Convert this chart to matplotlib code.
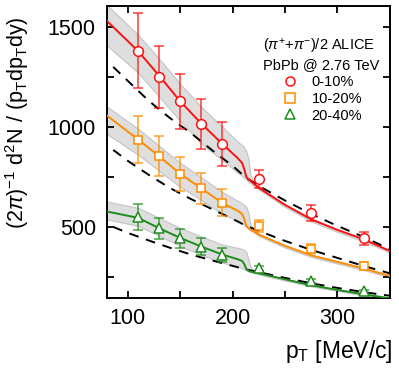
import matplotlib
matplotlib.use("Agg")
import matplotlib.pyplot as plt
from matplotlib.lines import Line2D

plt.rcParams['font.family'] = ['Liberation Sans', 'DejaVu Sans']
plt.rcParams['mathtext.fontset'] = 'custom'
plt.rcParams['mathtext.rm'] = 'Liberation Sans'
plt.rcParams['mathtext.it'] = 'Liberation Sans:italic'
plt.rcParams['mathtext.sf'] = 'Liberation Sans'

# ---- data points (ALICE) ----
pt_pts = [110, 130, 150, 170, 190, 225, 275, 325]
red_y = [1381, 1252, 1128, 1015, 915, 740, 568, 443]
red_err = [187, 155, 137, 125, 110, 45, 40, 34]
orange_y = [936, 853, 765, 693, 621, 507, 392, 305]
orange_err = [117, 100, 87, 77, 68, 30, 24, 22]
green_y = [548, 493, 443, 402, 360, 293, 230, 178]
green_err = [65, 52, 46, 42, 36, 14, 8, 8]

# ---- model curves (solid) ----
pt_line = [80, 110, 130, 150, 170, 190, 205, 209, 211, 213, 216, 225, 250, 275, 300, 325, 350]
red_line = [1530, 1378, 1255, 1128, 1017, 916, 843, 820, 790, 750, 735, 695, 610, 538, 485, 438, 380]
orange_line = [1057, 936, 853, 765, 693, 620, 580, 565, 540, 505, 490, 462, 405, 358, 325, 292, 255]
green_line = [577, 545, 493, 445, 402, 362, 338, 330, 315, 290, 278, 268, 238, 208, 185, 163, 143]

# ---- uncertainty bands ----
pt_band = [80, 110, 130, 150, 170, 190, 205, 210, 213, 215, 217, 220, 225, 250, 275, 300, 325, 350]
red_hi = [1610, 1460, 1340, 1215, 1101, 1001, 925, 905, 880, 840, 760, 720, 700, 613, 541, 488, 440, 382]
red_lo = [1407, 1270, 1150, 1030, 918, 835, 770, 752, 735, 725, 720, 708, 688, 600, 528, 475, 428, 372]
orange_hi = [1102, 990, 905, 820, 748, 675, 630, 615, 600, 570, 510, 490, 465, 408, 361, 328, 295, 258]
orange_lo = [965, 860, 780, 700, 635, 565, 530, 515, 500, 492, 485, 475, 455, 397, 350, 317, 285, 248]
green_hi = [627, 595, 545, 495, 452, 412, 395, 388, 375, 340, 300, 285, 272, 241, 211, 188, 166, 146]
green_lo = [538, 505, 455, 405, 360, 322, 300, 292, 283, 278, 274, 270, 262, 232, 203, 180, 158, 138]

# ---- dashed curves ----
pt_dash = [86, 100, 120, 140, 160, 180, 200, 213, 230, 250, 275, 300, 325, 350]
red_dash = [1300, 1230, 1130, 1045, 970, 885, 805, 745, 690, 632, 565, 505, 450, 388]
orange_dash = [885, 830, 760, 695, 640, 590, 540, 505, 470, 430, 385, 345, 305, 268]
green_dash = [500, 470, 432, 396, 362, 333, 305, 287, 268, 245, 218, 195, 174, 156]

labels = ['0-10%', '10-20%', '20-40%']
colors = ['#ff1010', '#ff8c00', '#1e8c1e']
markers = ['o', 's', '^']

fig = plt.figure(figsize=(3.99, 3.71), dpi=100)
ax = fig.add_axes([0.268, 0.197, 0.709, 0.787])

series = [
    (red_y, red_err, red_line, red_hi, red_lo, red_dash),
    (orange_y, orange_err, orange_line, orange_hi, orange_lo, orange_dash),
    (green_y, green_err, green_line, green_hi, green_lo, green_dash),
]

for (y, e, line, hi, lo, dash), c, m in zip(series, colors, markers):
    ax.fill_between(pt_band, lo, hi, facecolor='#dedede', edgecolor='#c4c4c4', lw=0.8, zorder=1)
    ax.plot(pt_dash, dash, color='black', ls=(0, (5, 4)), lw=1.4, zorder=2)
    ax.plot(pt_line, line, color=c, lw=1.4, zorder=3)
    ax.errorbar(pt_pts, y, yerr=e, fmt='none', ecolor=c, alpha=0.75, elinewidth=1.2,
                capsize=3.5, capthick=1.2, zorder=4)
    ms = 7 if m == 'o' else (6 if m == 's' else 7.5)
    ax.plot(pt_pts, y, ls='none', marker=m, ms=ms, mfc='white', mec=c, mew=1.1, zorder=5)

ax.set_xlim(80, 350)
ax.set_ylim(145, 1605)
ax.set_xticks([100, 200, 300])
ax.set_xticks([150, 250], minor=True)
ax.set_yticks([500, 1000, 1500])
ax.set_yticks([250, 750, 1250], minor=True)
ax.tick_params(which='both', direction='in', top=True, right=True, length=5, width=1.3,
               labelsize=15.5)
ax.tick_params(axis='y', pad=8)
ax.tick_params(axis='x', pad=7)
for s in ax.spines.values():
    s.set_linewidth(1.4)

ax.set_ylabel(r'$(2\pi)^{-1}$ d$^{2}$N / (p$_{\mathrm{T}}$dp$_{\mathrm{T}}$dy)', fontsize=15.5)
ax.yaxis.set_label_coords(-0.27, 0.60)
fig.text(0.985, 0.052, r'p$_{\mathrm{T}}$ [MeV/c]', ha='right', va='center', fontsize=16.5)

handles = [Line2D([], [], ls='none', marker=m, ms=6.5, mfc='white', mec=c, mew=1.1)
           for m, c in zip(markers, colors)]
leg = ax.legend(handles, labels, title='($\\pi^{+}$+$\\pi^{-}$)/2 ALICE\nPbPb @ 2.76 TeV',
                loc='upper right', bbox_to_anchor=(1.0, 0.93), frameon=False, fontsize=10.5,
                title_fontsize=10.5, handlelength=1.2, handletextpad=0.9, labelspacing=0.2,
                borderpad=0.2)
leg._legend_box.align = 'center'

fig.savefig('out.png', dpi=100)
